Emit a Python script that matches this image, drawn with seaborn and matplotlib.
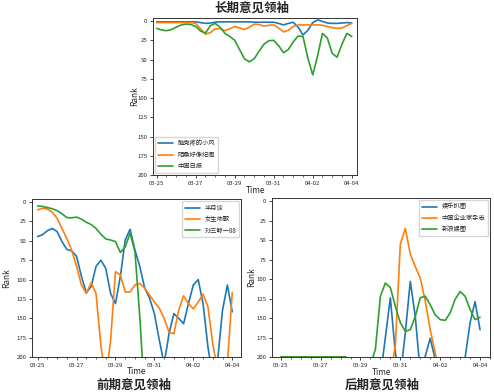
import numpy as np
import pandas as pd
import matplotlib
matplotlib.use("Agg")
import matplotlib.pyplot as plt
import matplotlib.dates as mdates
import seaborn as sns

sns.set_style("ticks")
plt.rcParams['font.family'] = ['Noto Sans CJK SC', 'DejaVu Sans']
plt.rcParams['axes.unicode_minus'] = False

# ---------------- data (6-hourly samples) ----------------
times = pd.date_range('2020-03-25', periods=41, freq='6h')
tick_dates = ['2020-03-25', '2020-03-27', '2020-03-29', '2020-03-31', '2020-04-02', '2020-04-04']
tick_labels = ['03-25', '03-27', '03-29', '03-31', '04-02', '04-04']
y_ticks = [0, 25, 50, 75, 100, 125, 150, 175, 200]

long_names = ['脑壳疼的小风', '陌桑好像纪阁', '中国日报']
long_blue = [1, 1, 1, 1, 1, 1, 1, 1, 1, 2, 3, 2.5, 1.5, 1, 1, 1, 1, 1, 1, 1,
             1.5, 1.5, 1.5, 1.5, 1.5, 3, 5, 3, 1.5, 8, 18, 12, 2, -1.5, 0.5, 2.5,
             3, 3, 2.5, 2, 2.5]
long_orange = [2, 2, 2, 2, 2, 2, 2, 2, 3, 10, 17, 15, 10, 10, 12.5, 10, 7, 9, 11, 8,
               4, 4.5, 6.5, 5.5, 5, 9, 14, 12, 7, 5, 5, 5, 5, 5, 5.5, 7, 8.5, 9.5,
               9, 6, 3]
long_green = [9.5, 11.5, 12.5, 11, 8, 5, 4, 4.5, 7, 13, 15.5, 6, 3, 8, 16, 20, 25,
              37, 49, 53, 49, 39, 30, 25.5, 25, 32, 41, 37, 27, 19.5, 20, 48, 70,
              45, 16, 22, 42, 47, 30, 16, 20]

early_names = ['半月谈', '女生帅歌', '孙三鲸一88']
early_blue = [44.5, 42, 37, 34, 38, 51, 61, 63, 70, 96, 117, 109, 83, 75, 85.5, 118,
              131, 96, 49, 35, 62, 83, 111, 124, 144, 178, 209, 170, 144, 150, 157,
              131, 107, 100, 131, 187, 226, 204, 139.5, 107, 141.7]
early_orange = [10, 8, 9, 13, 21, 34, 47, 62, 83, 107, 118, 104, 118, 185, 230, 178,
                90, 94, 116, 116, 107, 105, 111, 120, 129, 137, 150, 168, 170, 139.5,
                121, 131, 138, 129, 119, 135, 183, 217, 235, 209, 117]
early_green = [5, 5.6, 7, 8.6, 11, 15, 20, 20.3, 19.4, 22, 26, 29, 34, 41.5, 47.5,
               49, 51, 65, 58, 40, 64, 148, 252] + [np.nan] * 18

late_names = ['娱乐扒圈', '中国企业家杂志', '新浪娱圈']
late_blue = [200] * 14 + [215, 230, 240, 245, 245, 240, 225, 175, 124, 195, 225, 169,
                          103, 148, 220, 199, 176, 203, 230, 250, 260, 255, 235, 201,
                          156, 129, 165]
late_orange = [200] * 14 + [215, 240, 260, 270, 270, 265, 255, 245, 225, 185, 55, 35,
                            68, 84, 99, 128, 165, 195, 225] + [np.nan] * 8
late_green = [200] * 14 + [203, 210, 215, 215, 210, 190, 122, 105, 111, 135, 156,
                           167, 165, 148, 124, 122, 133, 146, 152, 153, 143.5, 126,
                           116, 122, 139, 152, 149]

colors = ['#1f77b4', '#ff7f0e', '#2ca02c']

W, H = 494, 392
fig = plt.figure(figsize=(W / 100, H / 100), dpi=100)


def px_axes(l, t, r, b):
    return fig.add_axes([l / W, 1 - b / H, (r - l) / W, (b - t) / H])


start = pd.Timestamp('2020-03-25')


def draw(ax, names, series, xl, xr, legend_loc, ylab_x, xlab_y):
    df = pd.DataFrame({
        'Time': np.tile(times, len(names)),
        'Rank': np.concatenate([np.asarray(s, dtype=float) for s in series]),
        'user': np.repeat(names, len(times)),
    })
    sns.lineplot(data=df, x='Time', y='Rank', hue='user', hue_order=names,
                 palette=colors, estimator=None, linewidth=1.2, ax=ax)
    ax.set_ylim(200, -4)
    ax.set_yticks(y_ticks)
    ax.set_xlim(start + pd.Timedelta(days=xl), start + pd.Timedelta(days=xr))
    ax.set_xticks(pd.to_datetime(tick_dates))
    ax.set_xticklabels(tick_labels)
    ax.xaxis.set_minor_locator(mdates.HourLocator(byhour=[0, 12]))
    ax.tick_params(axis='both', which='major', labelsize=4.3, length=2.5, width=0.6, pad=1.5)
    ax.tick_params(axis='x', which='minor', length=1.5, width=0.5)
    for sp in ax.spines.values():
        sp.set_visible(True)
        sp.set_linewidth(0.7)
        sp.set_color('#333333')
    ax.set_xlabel('Time', fontsize=6)
    ax.set_ylabel('Rank', fontsize=6)
    ax.xaxis.set_label_coords(0.5, xlab_y)
    ax.yaxis.set_label_coords(ylab_x, 0.5)
    handles, labels = ax.get_legend_handles_labels()
    ax.legend(handles, labels, loc=legend_loc, fontsize=4.5, borderaxespad=0.3,
              handlelength=2.4, labelspacing=0.55, borderpad=0.45)


ax1 = px_axes(153, 18, 357, 175)
draw(ax1, long_names, [long_blue, long_orange, long_green], -0.19, 10.27,
     'lower left', -0.07, -0.072)

ax2 = px_axes(32, 199, 241, 357)
draw(ax2, early_names, [early_blue, early_orange, early_green], -0.29, 10.45,
     'upper right', -0.1, -0.065)

ax3 = px_axes(272, 198, 490, 357)
draw(ax3, late_names, [late_blue, late_orange, late_green], -0.44, 10.5,
     'upper right', -0.075, -0.072)

fig.text(252 / W, 1 - 8 / H, '长期意见领袖', ha='center', va='center',
         fontsize=9, fontweight='bold')
fig.text(134 / W, 1 - 385 / H, '前期意见领袖', ha='center', va='center',
         fontsize=9, fontweight='bold')
fig.text(382 / W, 1 - 385 / H, '后期意见领袖', ha='center', va='center',
         fontsize=9, fontweight='bold')

fig.savefig('out.png', dpi=100)
